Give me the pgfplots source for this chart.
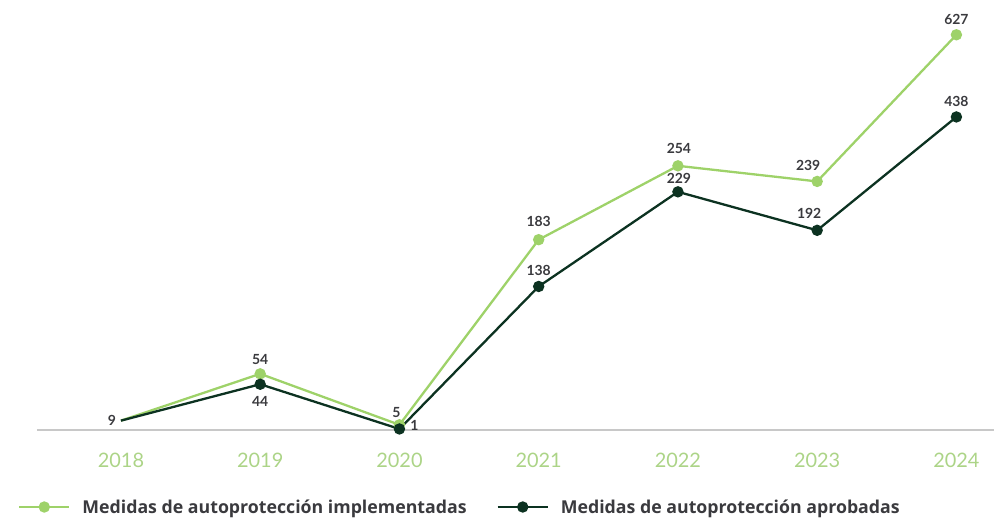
\documentclass[border=0pt]{standalone}
\usepackage{fontspec}
\setmainfont{Lato}
\newfontfamily\legfont{Open Sans}
\usepackage{pgfplots}
\pgfplotsset{compat=1.18}
\usepackage{pgfplotstable}
\definecolor{lgreen}{RGB}{158,210,105}
\definecolor{dgreen}{RGB}{12,50,33}
\definecolor{tgreen}{RGB}{172,212,135}
\definecolor{labc}{RGB}{58,58,62}
\definecolor{axgray}{RGB}{200,200,200}

% y = plotted height (2024 values are drawn compressed in the reference), lab = value shown
\pgfplotstableread{
x y lab dx dy
0 9 {} 0 0
1 54 54 0 14
2 5 5 -3 12
3 183 183 0 18
4 254 254 1 17
5 239 239 -9 16
6 380 627 0 15
}\impl
\pgfplotstableread{
x y lab dx dy
0 9 9 -8 0
1 44 44 0 -17
2 1 1 15 4
3 138 138 0 16
4 229 229 1 13
5 192 192 -8 17
6 301 438 0 15
}\apro

\begin{document}
\begin{tikzpicture}
\begin{axis}[
  scale only axis, width=957bp, height=400bp,
  xmin=-0.603, xmax=6.27, ymin=0, ymax=384.6,
  axis x line*=bottom, axis y line=none,
  axis line style={axgray, line width=2bp},
  xtick={0,...,6}, xticklabels={2018,2019,2020,2021,2022,2023,2024},
  major tick length=0pt,
  xticklabel style={text=tgreen, font=\fontsize{20}{24}\selectfont, inner sep=0pt, yshift=-22.5bp},
  ytick=\empty,
  clip=false,
  point meta=explicit symbolic,
  nodes near coords,
  visualization depends on={\thisrow{dx}\as\dx},
  visualization depends on={\thisrow{dy}\as\dy},
  nodes near coords style={anchor=center, inner sep=0pt, xshift=\dx bp, yshift=\dy bp,
     text=labc, font=\bfseries\fontsize{14}{16}\selectfont},
  legend columns=2,
  legend style={draw=none, fill=none, at={(-0.0199,-0.1925)}, anchor=west,
     inner xsep=0pt, nodes={inner sep=0pt, text=labc},
     /tikz/every odd column/.append style={column sep=12bp},
     /tikz/every even column/.append style={column sep=30bp}},
  legend cell align=left,
  legend image code/.code={\draw[#1, mark indices={2}] plot coordinates {(0bp,0bp) (25bp,0bp) (50bp,0bp)};},
]
\addplot[lgreen, line width=2.3bp, mark=*, mark size=4.5bp, mark options={fill=lgreen, draw=lgreen}, mark indices={2,3,4,5,6,7}]
  table[x=x, y=y, meta=lab] {\impl};
\addlegendentry{\legfont\bfseries\fontsize{17.8}{20}\selectfont Medidas de autoprotección implementadas}
\addplot[dgreen, line width=2.3bp, mark=*, mark size=4.5bp, mark options={fill=dgreen, draw=dgreen}, mark indices={2,3,4,5,6,7}]
  table[x=x, y=y, meta=lab] {\apro};
\addlegendentry{\legfont\bfseries\fontsize{17.8}{20}\selectfont Medidas de autoprotección aprobadas}
\addplot[draw=none, only marks, mark=*, mark size=0pt, mark options={draw=none, fill=none}, forget plot]
  table[x=x, y=y, meta=lab] {
x y lab dx dy
0 9 9 -9 0
};
\end{axis}
\pgfresetboundingbox
\path[use as bounding box] (-37bp,-88bp) rectangle (957bp,430bp);
\end{tikzpicture}
\end{document}
